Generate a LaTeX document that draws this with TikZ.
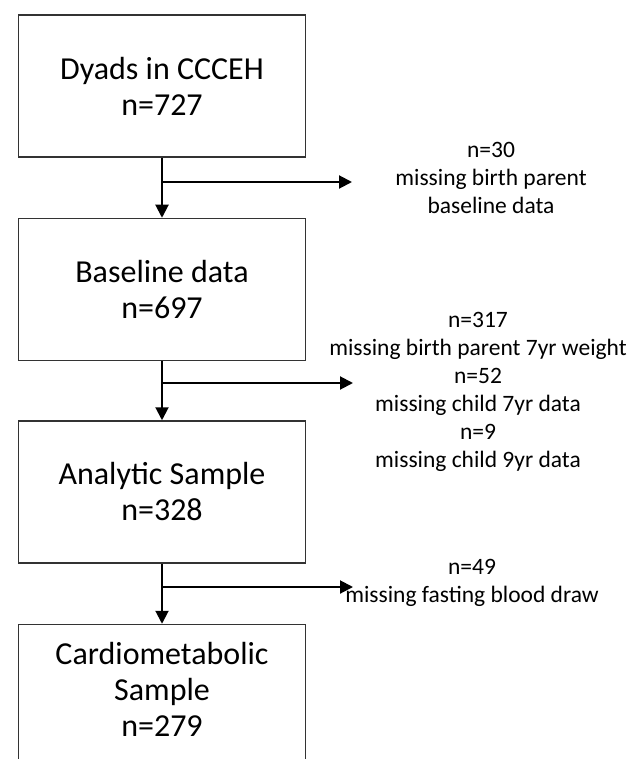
\documentclass[tikz,border=0pt]{standalone}
\usepackage{fontspec}
\setmainfont{Carlito}
\usetikzlibrary{positioning}
\usetikzlibrary{arrows.meta}

\begin{document}
\begin{tikzpicture}[x=1pt,y=-1pt,
  stagebox/.style={draw=black!80,line width=1.5pt,minimum width=287pt,minimum height=142pt,align=center,font=\fontsize{32}{36}\selectfont},
  dropnote/.style={align=center,font=\fontsize{23.5}{28}\selectfont},
  flow/.style={line width=2pt,-{Triangle[length=13pt,width=13pt]}}]
 \useasboundingbox (0,0) rectangle (638,759);
 \clip (0,0) rectangle (638,759);
 % stages
 \node[stagebox] (dyads) at (162,86) {Dyads in CCCEH\\n=727};
 \node[stagebox,below=60pt of dyads] (baseline) {Baseline data\\n=697};
 \node[stagebox,below=59pt of baseline] (analytic) {Analytic Sample\\n=328};
 \node[stagebox,below=60pt of analytic,minimum height=160pt,text depth=30pt] (cardio) {Cardiometabolic\\Sample\\n=279};
 % exclusions
 \node[dropnote] (lost30) at (491,178) {n=30\\missing birth parent\\baseline data};
 \node[dropnote] (lost378) at (478,392) {n=317\\missing birth parent 7yr weight\\n=52\\missing child 7yr data\\n=9\\missing child 9yr data};
 \node[dropnote] (lost49) at (472,583) {n=49\\missing fasting blood draw};
 \coordinate (cut1) at (163,182);
 \coordinate (end1) at (352,182);
 \coordinate (cut2) at (163,383);
 \coordinate (end2) at (353,383);
 \coordinate (cut3) at (163,587);
 \coordinate (end3) at (353,587);
 % arrows
 \draw[flow] (dyads) -- (baseline);
 \draw[flow] (baseline) -- (analytic);
 \draw[flow] (analytic) -- (cardio);
 \draw[flow] (cut1) -- (end1);
 \draw[flow] (cut2) -- (end2);
 \draw[flow] (cut3) -- (end3);
\end{tikzpicture}
\end{document}
